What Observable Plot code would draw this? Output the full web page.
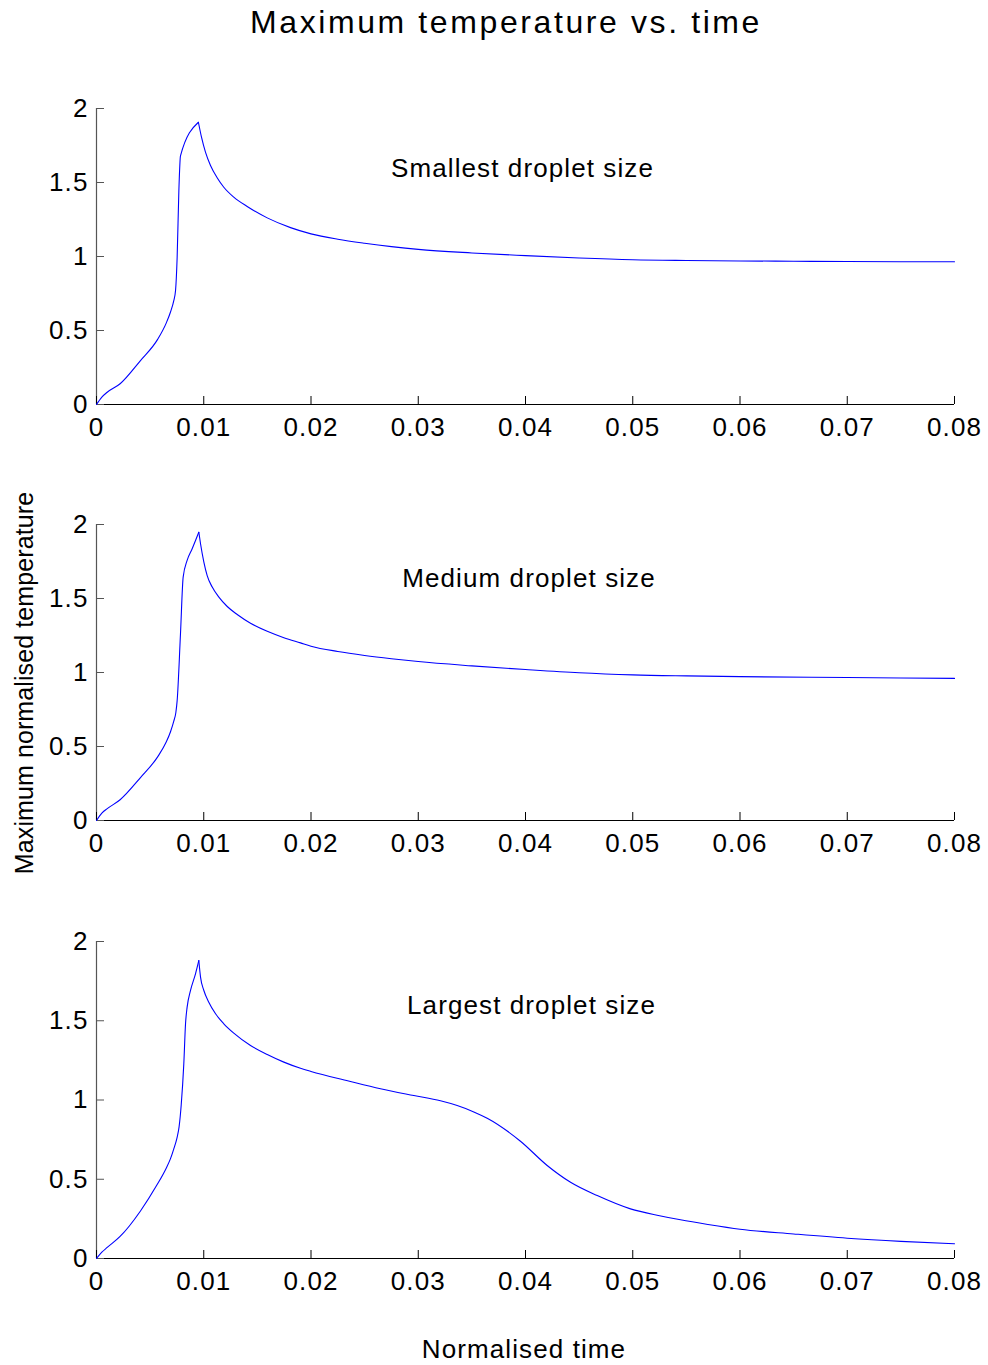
<!DOCTYPE html>
<html>
<head>
<meta charset="utf-8">
<script src="https://cdn.jsdelivr.net/npm/d3@7"></script>
<script src="https://cdn.jsdelivr.net/npm/@observablehq/plot@0.6"></script>
<style>
  html, body { margin: 0; padding: 0; background: #fff; }
  #root { position: relative; width: 988px; height: 1365px; background: #fff; font-family: "Liberation Sans", Arial, sans-serif; color: #000; }
  .lbl { position: absolute; white-space: nowrap; line-height: 1; transform: translate(-50%, -50%); }
  .panel { position: absolute; left: 0; }
</style>
</head>
<body>
<div id="root"></div>
<script>
// ---- Data ----
const titleText = "Maximum temperature vs. time";
const xLabelText = "Normalised time";
const yLabelText = "Maximum normalised temperature";
const panelLabels = ["Smallest droplet size", "Medium droplet size", "Largest droplet size"];

const xTicks = [0, 0.01, 0.02, 0.03, 0.04, 0.05, 0.06, 0.07, 0.08];
const xTickLabels = ["0", "0.01", "0.02", "0.03", "0.04", "0.05", "0.06", "0.07", "0.08"];
const yTicks = [0, 0.5, 1, 1.5, 2];
const yTickLabels = ["0", "0.5", "1", "1.5", "2"];

const timeSmall = [0, 0.0005, 0.001, 0.0022, 0.0041, 0.0057, 0.0065, 0.0069, 0.0072, 0.00737, 0.00752, 0.00768, 0.00783, 0.0095, 0.00979, 0.01016, 0.01063, 0.01125, 0.01187, 0.0128, 0.01405, 0.01592, 0.01809, 0.02, 0.0225, 0.025, 0.0275, 0.03, 0.035, 0.04, 0.045, 0.05, 0.055, 0.06, 0.065, 0.07, 0.075, 0.08];
const tempSmall = [0, 0.05, 0.083, 0.14, 0.297, 0.44, 0.55, 0.625, 0.70, 0.77, 0.995, 1.446, 1.68, 1.907, 1.806, 1.705, 1.615, 1.532, 1.468, 1.401, 1.338, 1.261, 1.195, 1.153, 1.117, 1.09, 1.067, 1.048, 1.024, 1.006, 0.99, 0.978, 0.973, 0.97, 0.968, 0.966, 0.965, 0.965];

const timeMedium = [0, 0.0005, 0.001, 0.0022, 0.0041, 0.0057, 0.0065, 0.0069, 0.0072, 0.0074, 0.00752, 0.00783, 0.00808, 0.00845, 0.00892, 0.00954, 0.0097, 0.01001, 0.01032, 0.01079, 0.01141, 0.01219, 0.01312, 0.01436, 0.01592, 0.01747, 0.01902, 0.02, 0.0225, 0.025, 0.0275, 0.03, 0.035, 0.04, 0.045, 0.05, 0.055, 0.06, 0.07, 0.08];
const tempMedium = [0, 0.05, 0.08, 0.14, 0.29, 0.43, 0.53, 0.60, 0.67, 0.73, 0.81, 1.26, 1.644, 1.757, 1.836, 1.948, 1.87, 1.746, 1.655, 1.577, 1.509, 1.446, 1.392, 1.333, 1.278, 1.235, 1.20, 1.178, 1.142, 1.115, 1.093, 1.074, 1.045, 1.02, 0.998, 0.984, 0.977, 0.972, 0.966, 0.96];

const timeLarge = [0, 0.0005, 0.001, 0.0022, 0.0041, 0.0056, 0.0065, 0.0069, 0.0072, 0.0075, 0.0077, 0.0079, 0.00814, 0.0083, 0.00845, 0.00876, 0.00923, 0.00954, 0.0097, 0.01001, 0.01047, 0.0111, 0.01187, 0.0128, 0.01436, 0.01592, 0.01747, 0.01902, 0.02, 0.0235, 0.02648, 0.02959, 0.03207, 0.03363, 0.03518, 0.03643, 0.03953, 0.04202, 0.0442, 0.04669, 0.04979, 0.0525, 0.05445, 0.057, 0.06, 0.065, 0.07, 0.075, 0.08];
const tempLarge = [0, 0.04, 0.07, 0.139, 0.30, 0.46, 0.57, 0.63, 0.69, 0.76, 0.83, 0.97, 1.228, 1.48, 1.586, 1.69, 1.796, 1.88, 1.775, 1.691, 1.617, 1.544, 1.481, 1.422, 1.344, 1.287, 1.239, 1.20, 1.18, 1.12, 1.071, 1.028, 0.995, 0.965, 0.925, 0.885, 0.74, 0.587, 0.481, 0.397, 0.313, 0.27, 0.244, 0.215, 0.185, 0.155, 0.128, 0.108, 0.093];

// ---- Layout ----
const FONT = '"Liberation Sans", Arial, sans-serif';
const root = document.getElementById("root");

function addLabel(text, x, y, size, spacing, rotate) {
  const el = document.createElement("div");
  el.className = "lbl";
  el.textContent = text;
  el.style.left = x + "px";
  el.style.top = y + "px";
  el.style.fontSize = size + "px";
  el.style.letterSpacing = spacing + "px";
  if (rotate) el.style.transform = "translate(-50%, -50%) rotate(-90deg)";
  root.appendChild(el);
}

// split each series at its peak so the peak stays a sharp corner
function toRows(times, temps) {
  const peak = temps.indexOf(Math.max(...temps));
  const rows = [];
  times.forEach((t, i) => {
    if (i <= peak) rows.push({t, v: temps[i], seg: "rise"});
    if (i >= peak) rows.push({t, v: temps[i], seg: "decay"});
  });
  return rows;
}

function panel(times, temps, label, top, plotH, ldx, ldy) {
  const data = toRows(times, temps);
  const mTop = 20, mBottom = 50;
  const chart = Plot.plot({
    width: 988,
    height: mTop + plotH + mBottom,
    marginLeft: 96, marginRight: 34, marginTop: mTop, marginBottom: mBottom,
    style: {fontFamily: FONT, fontSize: "26px", letterSpacing: "1.1px", background: "transparent", color: "#000", overflow: "visible"},
    x: {domain: [0, 0.08]},
    y: {domain: [0, 2]},
    marks: [
      Plot.ruleX([0], {stroke: "#555", strokeWidth: 1.2}),
      Plot.ruleY([0], {stroke: "#000"}),
      Plot.axisX({ticks: xTicks, tickSize: -8, tickPadding: 21, label: null,
        tickFormat: d => xTickLabels[xTicks.indexOf(d)]}),
      Plot.axisY({ticks: yTicks, tickSize: -8, tickPadding: 16, label: null, stroke: "#555",
        tickFormat: d => yTickLabels[yTicks.indexOf(d)]}),
      Plot.line(data, {x: "t", y: "v", z: "seg", stroke: "#0000ff", strokeWidth: 1.1, curve: "monotone-x"}),
      Plot.text([label], {frameAnchor: "top", dx: ldx, dy: ldy, fontSize: 26, fill: "#000"})
    ]
  });
  chart.classList.add("panel");
  chart.style.top = (top - mTop) + "px";
  root.appendChild(chart);
}

addLabel(titleText, 506, 22, 32, 2.6, false);
panel(timeSmall, tempSmall, panelLabels[0], 108, 296, -3, 50);
panel(timeMedium, tempMedium, panelLabels[1], 524, 296, 3.5, 44);
panel(timeLarge, tempLarge, panelLabels[2], 941, 317, 6, 54);
addLabel(yLabelText, 24, 683, 25, 0.1, true);
addLabel(xLabelText, 524, 1349, 26, 1.1, false);
</script>
</body>
</html>
